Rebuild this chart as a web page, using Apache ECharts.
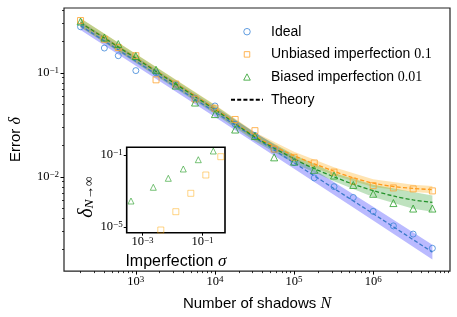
<!DOCTYPE html>
<html>
<head>
<meta charset="utf-8">
<script src="https://cdn.jsdelivr.net/npm/echarts@6/dist/echarts.min.js"></script>
<style>
html,body{margin:0;padding:0;background:#fff;}
#chart{width:457px;height:317px;}
</style>
</head>
<body>
<div id="chart"></div>
<script>
// ---------- data ----------
const shadowsN = [200, 400, 600, 1000, 1800, 3200, 5600, 10000, 18000, 32000, 56000, 100000, 180000, 320000, 560000, 1000000, 1800000, 3200000, 5600000];
const idealErr = [0.277, 0.173, 0.146, 0.105, 0.100, 0.077, 0.057, 0.048, 0.032, 0.025, 0.0182, 0.0137, 0.00977, 0.00805, 0.00634, 0.00466, 0.00338, 0.00282, 0.00206];
const unbiasedErr = [0.318, 0.21, 0.175, 0.146, 0.0856, 0.078, 0.056, 0.0457, 0.0356, 0.0278, 0.0185, 0.0154, 0.0136, 0.0111, 0.0091, 0.00823, 0.00783, 0.00766, 0.00733];
const biasedErr = [0.311, 0.218, 0.189, 0.145, 0.107, 0.0754, 0.0518, 0.0401, 0.0285, 0.0247, 0.0154, 0.0140, 0.0117, 0.0103, 0.00836, 0.00688, 0.00560, 0.00496, 0.00496];

const idealTheoryN = [200, 10000, 100000, 1000000, 5600000];
const idealTheory = [0.2836, 0.04194, 0.01364, 0.004428, 0.00189];
const curveTheoryN = [200, 10000, 32000, 100000, 180000, 320000, 560000, 1000000, 1800000, 3200000, 5600000];
const unbiasedTheory = [0.303, 0.04525, 0.02464, 0.01595, 0.01335, 0.01132, 0.00979, 0.00869, 0.00808, 0.00774, 0.00754];
const biasedTheory = [0.303, 0.0443, 0.0241, 0.0149, 0.0120, 0.0100, 0.0085, 0.00738, 0.00655, 0.0060, 0.00568];

const idealBandN = [200, 10000, 100000, 1000000, 5600000];
const idealBandUpper = [0.3127, 0.04676, 0.01554, 0.005154, 0.002225];
const idealBandLower = [0.2572, 0.03761, 0.01198, 0.003804, 0.001606];
const unbiasedBandN = [200, 10000, 32000, 100000, 320000, 1000000, 3200000, 5600000];
const unbiasedBandUpper = [0.334, 0.0494, 0.0269, 0.0174, 0.01235, 0.00948, 0.00839, 0.00817];
const unbiasedBandLower = [0.275, 0.0415, 0.0226, 0.0146, 0.01038, 0.00797, 0.00714, 0.00696];
const biasedBandN = [200, 10000, 32000, 100000, 320000, 1000000, 3200000, 5600000];
const biasedBandUpper = [0.334, 0.0488, 0.0264, 0.0163, 0.0109, 0.0084, 0.00714, 0.00662];
const biasedBandLower = [0.2747, 0.0402, 0.0220, 0.01355, 0.00907, 0.00641, 0.00494, 0.00462];

const insetBiasedSigma = [4.13e-4, 2.29e-3, 7.24e-3, 0.0229, 0.0724, 0.229];
const insetBiasedDelta = [2.78e-4, 1.61e-3, 5.08e-3, 0.0167, 0.0548, 0.167];
const insetUnbiasedSigma = [4.07e-3, 0.0129, 0.0407, 0.129, 0.407];
const insetUnbiasedDelta = [6.8e-6, 7.08e-5, 7.45e-4, 7.74e-3, 0.0805];

const mainXTicks = [1e3, 1e4, 1e5, 1e6];
const mainYTicks = [1e-2, 1e-1];
const insetXTicks = [1e-3, 1e-1];
const insetYTicks = [1e-5, 1e-1];

const seriesNames = ['Ideal', 'Unbiased imperfection 0.1', 'Biased imperfection 0.01', 'Theory'];

// ---------- helpers ----------
function minorTicks(d0, d1) {
  const out = [];
  for (let d = d0; d <= d1; d++) for (let k = 2; k <= 9; k++) out.push(+(k * Math.pow(10, d)).toPrecision(6));
  return out;
}
const mainXMinor = minorTicks(2, 6);
const mainYMinor = minorTicks(-3, -1);

function pow10Label(v) {
  const e = Math.round(Math.log10(v));
  return '{b|10}{s|' + (e < 0 ? '\u2212' + (-e) : e) + '}';
}
const supRich = {
  b: {fontFamily: 'Liberation Serif', fontSize: 12.5, color: '#000', lineHeight: 13, verticalAlign: 'bottom'},
  s: {fontFamily: 'Liberation Serif', fontSize: 9, color: '#000', lineHeight: 9, padding: [0, 0, 7, 0], verticalAlign: 'top'}
};
const pairs = (xs, ys) => xs.map((x, i) => [x, ys[i]]);

function bandSeries(ns, up, lo, fill) {
  return {
    type: 'custom', xAxisIndex: 0, yAxisIndex: 0, z: 1, silent: true,
    data: [[ns[0], up[0]]],
    renderItem: function (params, api) {
      const pts = [];
      for (let i = 0; i < ns.length; i++) pts.push(api.coord([ns[i], up[i]]));
      for (let i = ns.length - 1; i >= 0; i--) pts.push(api.coord([ns[i], lo[i]]));
      return {type: 'polygon', shape: {points: pts}, style: {fill: fill, stroke: null}};
    }
  };
}

// legend icons drawn in a 32 x 6.5 box (tiny corner segments fix the box so the marker keeps its shape)
const legendSquareIcon = 'path://M0,0L0.01,0M32,6.5L31.99,6.5M13.25,0.5L18.75,0.5L18.75,6L13.25,6Z';
const legendTriangleIcon = 'path://M0,0L0.01,0M32,6.5L31.99,6.5M16,0L19.3,6.3L12.7,6.3Z';

const dash = [4, 2.2];
const colBlue = '#3c86d8', colOrange = '#ffa42e', colGreen = '#2ca02c';

const frameX = {min: 123.6, max: 9.35e6};
const frameY = {min: 0.001243, max: 0.4195};

const chart = echarts.init(document.getElementById('chart'), null, {renderer: 'canvas'});
chart.setOption({
  animation: false,
  backgroundColor: '#fff',
  grid: [
    {left: 63, top: 8, width: 387, height: 268, show: true, borderColor: '#222', borderWidth: 1.2, backgroundColor: 'transparent'},
    {left: 126.7, top: 147.3, width: 98.3, height: 85.4, show: true, borderColor: '#000', borderWidth: 1.6, backgroundColor: '#fff', z: 5}
  ],
  xAxis: [
    {type: 'log', gridIndex: 0, min: frameX.min, max: frameX.max, position: 'bottom',
     axisLine: {show: false}, splitLine: {show: false},
     axisTick: {show: true, inside: false, length: 3.5, customValues: mainXTicks, lineStyle: {color: '#000', width: 1}},
     axisLabel: {customValues: mainXTicks, formatter: pow10Label, rich: supRich, margin: 4},
     name: '{t|Number of shadows }{m|N}', nameLocation: 'middle', nameGap: 18.5,
     nameTextStyle: {rich: {t: {fontFamily: 'Liberation Sans', fontSize: 15, color: '#000', lineHeight: 17}, m: {fontFamily: 'Liberation Serif', fontStyle: 'italic', fontSize: 16, color: '#000', lineHeight: 17}}}},
    {type: 'log', gridIndex: 0, min: frameX.min, max: frameX.max, position: 'bottom', offset: 0,
     axisLine: {show: false}, splitLine: {show: false}, axisLabel: {show: false},
     axisTick: {show: true, inside: false, length: 2, customValues: mainXMinor, lineStyle: {color: '#000', width: 0.8}}},
    {type: 'log', gridIndex: 1, min: 2.97e-4, max: 0.562, position: 'bottom',
     axisLine: {show: false}, splitLine: {show: false},
     axisTick: {show: true, inside: false, length: 3, customValues: insetXTicks, lineStyle: {color: '#000', width: 1}},
     axisLabel: {customValues: insetXTicks, formatter: pow10Label, rich: supRich, margin: 3},
     name: '{t|Imperfection }{m|\u03c3}', nameLocation: 'middle', nameGap: 12.5,
     nameTextStyle: {rich: {t: {fontFamily: 'Liberation Sans', fontSize: 16, color: '#000', lineHeight: 18}, m: {fontFamily: 'Liberation Serif', fontStyle: 'italic', fontSize: 17, color: '#000', lineHeight: 18}}}}
  ],
  yAxis: [
    {type: 'log', gridIndex: 0, min: frameY.min, max: frameY.max, position: 'left',
     axisLine: {show: false}, splitLine: {show: false},
     axisTick: {show: true, inside: false, length: 3.5, customValues: mainYTicks, lineStyle: {color: '#000', width: 1}},
     axisLabel: {customValues: mainYTicks, formatter: pow10Label, rich: supRich, margin: 5},
     name: '{t|Error }{m|\u03b4}', nameLocation: 'middle', nameRotate: 90, nameGap: 39.5,
     nameTextStyle: {rich: {t: {fontFamily: 'Liberation Sans', fontSize: 15, color: '#000', lineHeight: 17}, m: {fontFamily: 'Liberation Serif', fontStyle: 'italic', fontSize: 16, color: '#000', lineHeight: 17}}}},
    {type: 'log', gridIndex: 0, min: frameY.min, max: frameY.max, position: 'left', offset: 0,
     axisLine: {show: false}, splitLine: {show: false}, axisLabel: {show: false},
     axisTick: {show: true, inside: false, length: 2, customValues: mainYMinor, lineStyle: {color: '#000', width: 0.8}}},
    {type: 'log', gridIndex: 1, min: 4.82e-6, max: 0.268, position: 'left',
     axisLine: {show: false}, splitLine: {show: false},
     axisTick: {show: true, inside: false, length: 3, customValues: insetYTicks, lineStyle: {color: '#000', width: 1}},
     axisLabel: {customValues: insetYTicks, formatter: pow10Label, rich: supRich, margin: 4},
     name: '{m|\u03b4}{si|N}{s|\u2192\u221e}', nameLocation: 'middle', nameRotate: 90, nameGap: 29,
     nameTextStyle: {padding: [0, 14, 0, 0], rich: {
       m: {fontFamily: 'Liberation Serif', fontStyle: 'italic', fontSize: 20, color: '#000', lineHeight: 20, verticalAlign: 'top'},
       si: {fontFamily: 'Liberation Serif', fontStyle: 'italic', fontSize: 13.5, color: '#000', lineHeight: 13.5, padding: [9, 0, 0, 0], verticalAlign: 'bottom'},
       s: {fontFamily: 'Liberation Serif', fontSize: 13.5, color: '#000', lineHeight: 13.5, padding: [9, 0, 0, 0], verticalAlign: 'bottom'}}}}
  ],
  legend: {
    left: 225, top: 19.7, orient: 'vertical', selectedMode: false,
    itemWidth: 32, itemHeight: 6.5, itemGap: 8.7, symbolKeepAspect: true,
    itemStyle: {borderWidth: 1},
    data: [
      {name: seriesNames[0], icon: 'circle'},
      {name: seriesNames[1], icon: legendSquareIcon},
      {name: seriesNames[2], icon: legendTriangleIcon},
      {name: seriesNames[3], itemStyle: {color: 'rgba(0,0,0,0)', borderWidth: 0, borderColor: 'rgba(0,0,0,0)'}}
    ],
    formatter: function (name) {
      if (name === seriesNames[1]) return '{t|Unbiased imperfection }{n|0.1}';
      if (name === seriesNames[2]) return '{t|Biased imperfection }{n|0.01}';
      return '{t|' + name + '}';
    },
    textStyle: {lineHeight: 14, rich: {
      t: {fontFamily: 'Liberation Sans', fontSize: 14, color: '#000', lineHeight: 14},
      n: {fontFamily: 'Liberation Serif', fontSize: 14, color: '#000', lineHeight: 14}}, padding: [0, 0, 0, 3]}
  },
  series: [
    bandSeries(idealBandN, idealBandUpper, idealBandLower, 'rgba(0,0,255,0.27)'),
    bandSeries(unbiasedBandN, unbiasedBandUpper, unbiasedBandLower, 'rgba(255,165,0,0.3)'),
    bandSeries(biasedBandN, biasedBandUpper, biasedBandLower, 'rgba(44,160,44,0.3)'),
    {type: 'line', name: 'idealTheory', xAxisIndex: 0, yAxisIndex: 0, z: 2, symbol: 'none', silent: true,
     data: pairs(idealTheoryN, idealTheory), lineStyle: {color: '#3a78c8', width: 1.3, type: dash}},
    {type: 'line', name: 'unbiasedTheory', xAxisIndex: 0, yAxisIndex: 0, z: 2, symbol: 'none', silent: true, smooth: 0.3,
     data: pairs(curveTheoryN, unbiasedTheory), lineStyle: {color: '#ff9a1a', width: 1.3, type: dash}},
    {type: 'line', name: 'biasedTheory', xAxisIndex: 0, yAxisIndex: 0, z: 2, symbol: 'none', silent: true, smooth: 0.3,
     data: pairs(curveTheoryN, biasedTheory), lineStyle: {color: '#23922a', width: 1.3, type: dash}},
    {type: 'line', name: seriesNames[3], xAxisIndex: 0, yAxisIndex: 0, symbol: 'none', data: [],
     itemStyle: {color: '#000'}, lineStyle: {color: '#000', width: 1.2, type: dash}},
    {type: 'scatter', name: seriesNames[0], xAxisIndex: 0, yAxisIndex: 0, z: 3, symbol: 'circle', symbolSize: 6,
     data: pairs(shadowsN, idealErr), itemStyle: {color: 'rgba(0,0,0,0)', borderColor: colBlue, borderWidth: 1}},
    {type: 'scatter', name: seriesNames[1], xAxisIndex: 0, yAxisIndex: 0, z: 3, symbol: 'rect', symbolSize: 6,
     data: pairs(shadowsN, unbiasedErr), itemStyle: {color: 'rgba(0,0,0,0)', borderColor: colOrange, borderWidth: 1}},
    {type: 'scatter', name: seriesNames[2], xAxisIndex: 0, yAxisIndex: 0, z: 3, symbol: 'triangle', symbolSize: 7,
     data: pairs(shadowsN, biasedErr), itemStyle: {color: 'rgba(0,0,0,0)', borderColor: colGreen, borderWidth: 1}},
    {type: 'scatter', name: 'insetBiased', xAxisIndex: 2, yAxisIndex: 2, z: 6, symbol: 'triangle', symbolSize: 6,
     data: pairs(insetBiasedSigma, insetBiasedDelta), itemStyle: {color: 'rgba(0,0,0,0)', borderColor: 'rgba(44,160,44,0.8)', borderWidth: 1}},
    {type: 'scatter', name: 'insetUnbiased', xAxisIndex: 2, yAxisIndex: 2, z: 6, symbol: 'rect', symbolSize: 6,
     data: pairs(insetUnbiasedSigma, insetUnbiasedDelta), itemStyle: {color: 'rgba(0,0,0,0)', borderColor: 'rgba(255,165,0,0.6)', borderWidth: 1}}
  ]
});
</script>
</body>
</html>
